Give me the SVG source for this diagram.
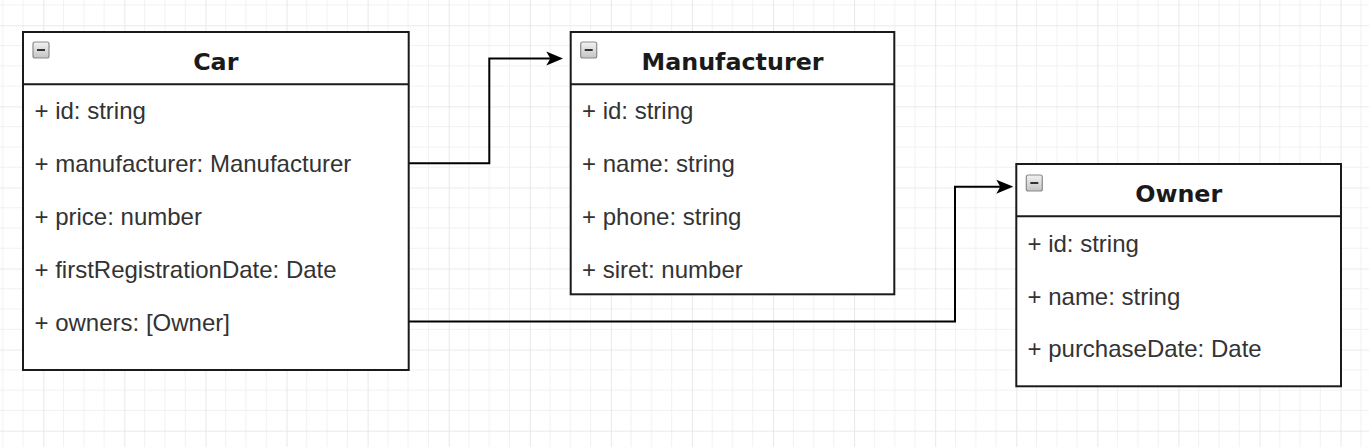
<svg xmlns="http://www.w3.org/2000/svg" width="1369" height="447" viewBox="0 0 1369 447">
  <style>
    .box { fill: #ffffff; stroke: #1a1a1a; stroke-width: 2; }
    .sep { stroke: #1a1a1a; stroke-width: 2; fill: none; }
    .title { font-family: "DejaVu Sans", Verdana, sans-serif; font-weight: bold; font-size: 23.8px; fill: #1a1a1a; text-anchor: middle; }
    .attr { font-family: "Liberation Sans", Arial, sans-serif; font-size: 24px; fill: #333333; }
    .edge { fill: none; stroke: #000000; stroke-width: 2; }
    .icon { fill: url(#iconGrad); stroke: #8a8a8a; stroke-width: 1.2; }
    .minus { stroke: #333333; stroke-width: 2; }
  </style>
  <defs>
    <pattern id="grid" patternUnits="userSpaceOnUse" x="43.3" y="25.3" width="81.08" height="81.08">
      <path d="M20.27 0V81.08M40.54 0V81.08M60.81 0V81.08M0 20.27H81.08M0 40.54H81.08M0 60.81H81.08" stroke="#f1f1f1" stroke-width="1" fill="none"/>
      <path d="M0 0V81.08M0 0H81.08" stroke="#e3e3e3" stroke-width="1.6" fill="none"/>
    </pattern>
    <linearGradient id="iconGrad" x1="0" y1="0" x2="0" y2="1">
      <stop offset="0" stop-color="#f2f2f2"/>
      <stop offset="1" stop-color="#c4c4c4"/>
    </linearGradient>
    <marker id="arrow" viewBox="0 0 17 15" refX="13" refY="7.5" markerWidth="17" markerHeight="15" markerUnits="userSpaceOnUse" orient="auto">
      <path d="M0 0.5L17 7.5L0 14.5L4 7.5Z" fill="#000000"/>
    </marker>
  </defs>
  <rect x="0" y="0" width="1369" height="447" fill="#ffffff"/>
  <rect x="0" y="0" width="1369" height="447" fill="url(#grid)"/>

  <g id="connectors">
    <path class="edge" d="M408.7 163.3H489.3V58.5H559.3" marker-end="url(#arrow)"/>
    <path class="edge" d="M408.7 321.5H955V186.7H1009.3" marker-end="url(#arrow)"/>
  </g>

  <g id="car">
    <rect class="box" x="23" y="32" width="385.7" height="338"/>
    <line class="sep" x1="23" y1="84.3" x2="408.7" y2="84.3"/>
    <rect class="icon" x="33" y="42" width="16" height="16" rx="2"/>
    <line class="minus" x1="37" y1="50" x2="45" y2="50"/>
    <text class="title" x="215.8" y="70">Car</text>
    <text class="attr" x="34.5" y="119.2">+ id: string</text>
    <text class="attr" x="34.5" y="172.2">+ manufacturer: Manufacturer</text>
    <text class="attr" x="34.5" y="225.2">+ price: number</text>
    <text class="attr" x="34.5" y="278.2">+ firstRegistrationDate: Date</text>
    <text class="attr" x="34.5" y="331.2">+ owners: [Owner]</text>
  </g>

  <g id="manufacturer">
    <rect class="box" x="570.7" y="32" width="323.6" height="262.3"/>
    <line class="sep" x1="570.7" y1="84.3" x2="894.3" y2="84.3"/>
    <rect class="icon" x="580.7" y="42" width="16" height="16" rx="2"/>
    <line class="minus" x1="584.7" y1="50" x2="592.7" y2="50"/>
    <text class="title" x="732.5" y="70">Manufacturer</text>
    <text class="attr" x="582" y="119.2">+ id: string</text>
    <text class="attr" x="582" y="172.2">+ name: string</text>
    <text class="attr" x="582" y="225.2">+ phone: string</text>
    <text class="attr" x="582" y="277.8">+ siret: number</text>
  </g>

  <g id="owner">
    <rect class="box" x="1016.3" y="164" width="324.7" height="222.3"/>
    <line class="sep" x1="1016.3" y1="216.3" x2="1341" y2="216.3"/>
    <rect class="icon" x="1026.3" y="175" width="16" height="16" rx="2"/>
    <line class="minus" x1="1030.3" y1="183" x2="1038.3" y2="183"/>
    <text class="title" x="1178.7" y="202">Owner</text>
    <text class="attr" x="1027.5" y="251.7">+ id: string</text>
    <text class="attr" x="1027.5" y="304.5">+ name: string</text>
    <text class="attr" x="1027.5" y="357.3">+ purchaseDate: Date</text>
  </g>
</svg>
